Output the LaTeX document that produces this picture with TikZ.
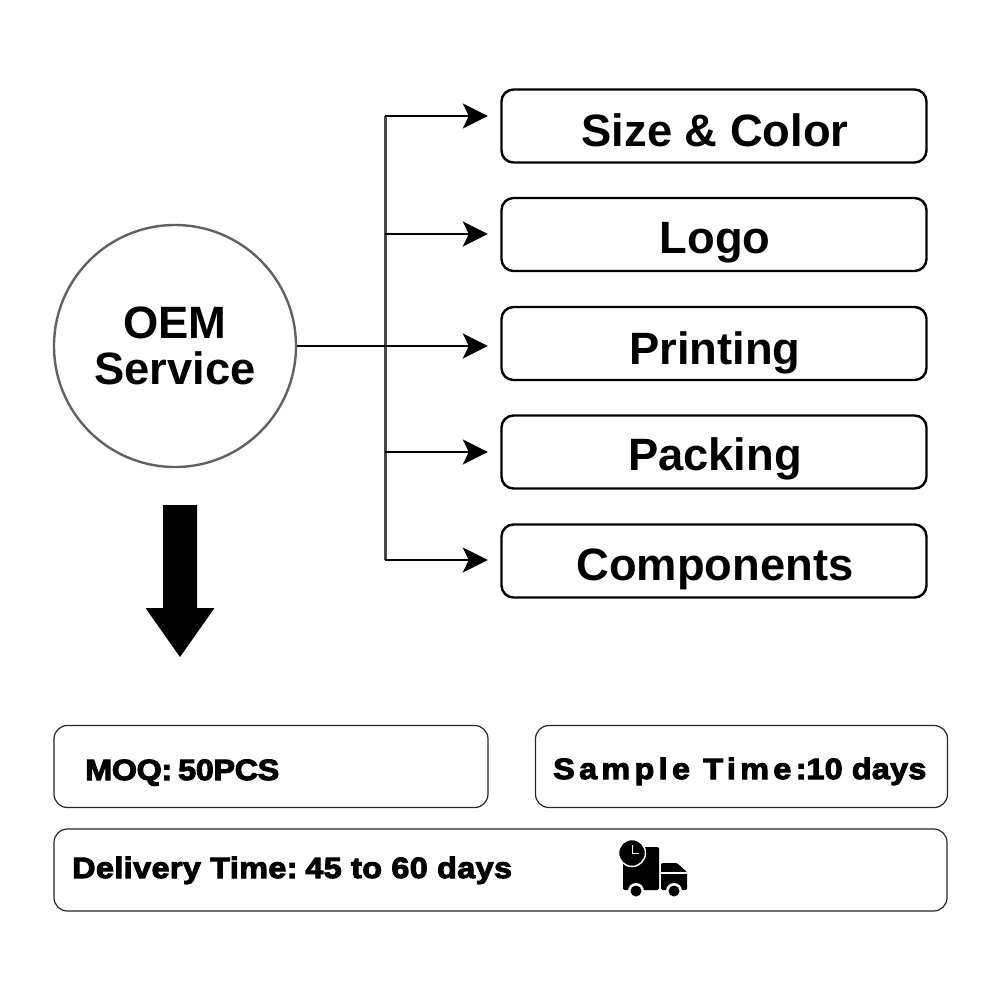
\documentclass[tikz,border=0pt]{standalone}
\usepackage{fontspec}
\setmainfont{Liberation Sans}
\newfontfamily\heavyw[BoldFeatures={FakeBold=3.6,FakeStretch=1.1},LetterSpace=15]{Liberation Sans}
\newfontfamily\heavyd[BoldFeatures={FakeBold=3.6,FakeStretch=1.1},LetterSpace=1]{Liberation Sans}
\newfontfamily\heavym[BoldFeatures={FakeBold=3.6,FakeStretch=1.1},LetterSpace=-1]{Liberation Sans}
\newfontfamily\heavyl[BoldFeatures={FakeBold=3.6,FakeStretch=1.1},LetterSpace=1.5]{Liberation Sans}
\usetikzlibrary{arrows.meta}
\tikzset{
  px/.style={x=0.75pt,y=-0.75pt},
  optbox/.style={draw=black,line width=2.4*0.75pt,rounded corners=9pt,minimum width=425*0.75pt,minimum height=73*0.75pt,inner sep=0pt,text depth=0pt,execute at begin node=\hspace*{1.5pt},font=\fontsize{34pt}{36pt}\selectfont\bfseries},
  infobox/.style={draw=black!85,line width=0.9pt,rounded corners=10pt,inner sep=0pt},
  infotext/.style={inner sep=0pt,anchor=base west},
  oemnode/.style={circle,draw=black!62,line width=1.8pt,minimum size=242*0.75pt,inner sep=0pt,align=center,font=\fontsize{34pt}{36pt}\selectfont\bfseries},
  arr/.style={draw=black,line width=2.6*0.75pt,-{Stealth[length=25*0.75pt,width=25*0.75pt,inset=6*0.75pt]},shorten >=12.5*0.75pt},
  trunk/.style={draw=black!72,line width=3*0.75pt},
}
\begin{document}
\begin{tikzpicture}[px]
\useasboundingbox[fill=white] (0,0) rectangle (1001,1001);
\node[oemnode] (oem) at (175,346) {OEM\\[-1pt]Service};
\node[optbox,text height=30pt] (b1) at (714,126) {Size \& Color};
\node[optbox,text height=27.75pt] (b2) at (714,234.5) {Logo};
\node[optbox,text height=30.75pt] (b3) at (714,343.5) {Printing};
\node[optbox,text height=27pt] (b4) at (714,452) {Packing};
\node[optbox,text height=28.5pt] (b5) at (714,561) {Components};
\coordinate (j1) at (385,116);
\coordinate (j2) at (385,234);
\coordinate (j3) at (385,346);
\coordinate (j4) at (385,452);
\coordinate (j5) at (385,560);
\draw[trunk] (j1) -- (j5);
\draw[arr] (j1) -- (b1.west |- j1);
\draw[arr] (j2) -- (b2.west |- j2);
\draw[arr] (oem.east) -- (b3.west |- j3);
\draw[arr] (j4) -- (b4.west |- j4);
\draw[arr] (j5) -- (b5.west |- j5);
% big arrow
\fill[black] (163,505) -- (197,505) -- (197,608) -- (214.5,608) -- (180,657) -- (145.5,608) -- (163,608) -- cycle;
% info boxes
\node[infobox,minimum width=434*0.75pt,minimum height=82*0.75pt] (moq) at (271,766.5) {};
\node[infobox,minimum width=412*0.75pt,minimum height=82*0.75pt] (samp) at (741.5,766.5) {};
\node[infobox,minimum width=893*0.75pt,minimum height=82*0.75pt] (del) at (500.5,870) {};
\node[infotext,font=\fontsize{22pt}{24pt}\heavym\bfseries] (t1) at (85,780) {MOQ:\kern-2pt{} 50PCS};
\node[infotext,font=\fontsize{22pt}{24pt}\heavyw\bfseries] (t2) at (553,779) {Sample Time:\heavyd 10 days};
\node[infotext,font=\fontsize{22pt}{24pt}\heavyl\bfseries] (t3) at (72,878) {Delivery Time:\kern-3.5pt{} 45 to 60 days};
% truck icon
\fill[black,rounded corners=1pt] (623,847) -- (659,847) -- (659,890) -- (623,890) -- cycle;
\fill[black,rounded corners=1pt] (661,863) -- (677,863) -- (687,872) -- (687,890) -- (661,890) -- cycle;
\fill[white] (661,872) rectangle (688,874);
\fill[black] (632,853) circle (13.5);
\draw[white,line width=1.1pt] (632,853) circle (13.5);
\draw[white,line width=1.3pt] (632.5,845) -- (632.5,853.5) -- (639,853.5);
\fill[white] (636,891) circle (8);
\fill[white] (674,891) circle (8);
\fill[black] (636,891) circle (5.5);
\fill[black] (674,891) circle (5.5);
\end{tikzpicture}
\end{document}
